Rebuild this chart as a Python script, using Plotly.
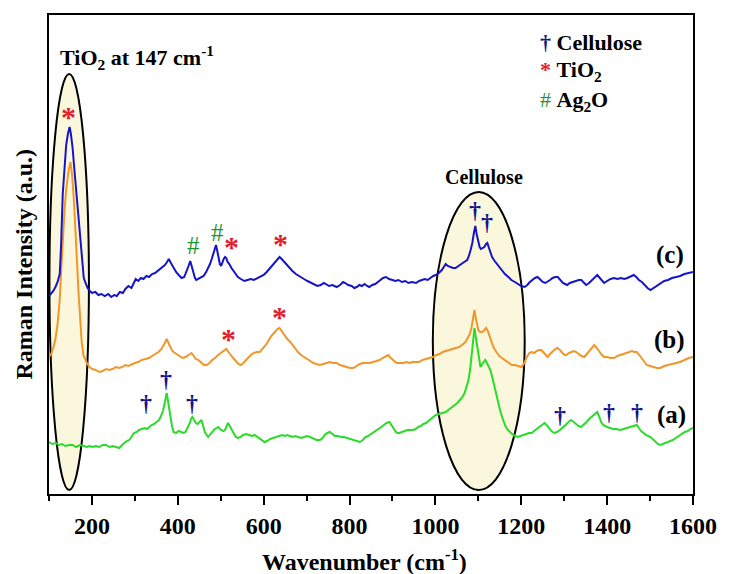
import plotly.graph_objects as go

# ---- data (wavenumber in cm^-1, intensity in a.u., vertical offsets included) ----
wn_c = [100,105,110,115,120,125,128,132,136,140,144,148,151,155,159,162,167,174,178,181,186,190,195,200,208,215,222,230,238,245,252,258,265,272,278,285,292,298,302,308,314,320,327,333,340,347,355,362,370,375,379,384,390,396,402,409,415,420,425,429,433,436,440,443,448,454,460,466,471,475,479,482,486,489,492,495,498,501,504,507,510,513,516,520,525,530,535,540,547,555,562,570,577,585,592,600,607,615,622,628,633,637,642,648,654,660,667,675,684,694,702,710,718,725,733,740,745,752,760,770,778,785,790,797,805,811,817,823,829,835,841,846,853,860,866,872,878,885,892,900,907,914,922,930,937,945,955,962,968,975,982,988,995,1001,1008,1015,1020,1024,1029,1035,1041,1047,1053,1060,1067,1074,1078,1082,1086,1090,1093,1096,1100,1103,1106,1110,1114,1118,1121,1124,1128,1132,1138,1145,1150,1155,1162,1170,1177,1185,1192,1200,1208,1214,1220,1226,1232,1238,1244,1250,1256,1261,1267,1273,1279,1285,1291,1297,1302,1307,1313,1320,1327,1334,1340,1346,1351,1358,1365,1371,1377,1383,1388,1393,1400,1408,1416,1424,1432,1440,1447,1455,1462,1468,1474,1481,1487,1494,1501,1508,1516,1524,1533,1542,1551,1561,1570,1580,1590,1600]
int_c = [198,200,203,207,212,220,247,300,330,349,360,367,360,346,325,310,280,247,228,216,210,206,203,201,202,199,200,198,200,197,199,198,202,201,205,208,206,212,215,213,216,215,218,217,220,221,224,226,229,232,235,231,226,222,219,216,217,222,228,233,226,221,216,214,215,217,218,222,226,230,235,240,246,249,243,236,230,228,232,235,237,236,232,230,226,223,219,217,215,213,214,215,214,216,217,219,222,226,230,233,235,237,235,232,229,226,223,220,218,215,213,211,209,208,209,211,210,208,209,207,209,212,211,209,208,206,207,209,208,210,208,207,209,210,212,214,216,217,215,214,213,214,212,213,211,212,211,213,214,215,214,216,218,219,221,224,228,230,228,227,226,226,228,230,232,234,238,244,251,262,268,260,251,247,245,246,247,250,251,247,242,237,233,229,226,224,220,217,214,212,210,208,207,209,212,214,216,217,214,212,211,212,214,216,217,217,214,211,210,209,211,212,213,214,214,211,209,211,214,217,219,216,213,211,213,215,216,215,216,215,216,218,219,217,214,212,209,206,204,206,209,211,213,214,216,217,218,220,221,222]

wn_b = [100,105,110,115,120,125,128,132,136,140,145,150,154,158,162,165,169,172,176,180,187,194,201,209,217,225,233,240,248,256,263,270,278,285,293,300,308,316,325,333,340,348,355,362,368,371,374,378,382,386,390,397,404,411,418,425,432,437,442,448,455,461,467,474,480,487,494,500,506,513,518,524,529,535,541,547,553,559,565,570,577,584,591,598,605,611,616,622,628,632,637,642,648,655,662,669,675,680,687,694,701,708,716,723,731,739,746,754,762,770,778,786,793,801,809,817,824,832,840,847,855,862,870,877,884,890,896,903,910,918,925,933,940,947,955,962,970,978,986,994,1002,1010,1017,1024,1031,1038,1046,1055,1062,1070,1075,1080,1084,1088,1091,1094,1097,1100,1104,1109,1114,1118,1122,1127,1131,1135,1142,1149,1155,1162,1170,1178,1185,1193,1201,1207,1213,1219,1224,1230,1236,1242,1247,1253,1258,1261,1267,1273,1279,1284,1290,1296,1301,1305,1311,1317,1323,1328,1334,1340,1347,1353,1359,1365,1370,1376,1382,1388,1393,1400,1408,1416,1424,1432,1439,1446,1452,1458,1464,1469,1475,1481,1487,1492,1500,1508,1516,1524,1533,1542,1551,1561,1570,1580,1590,1600]
int_b = [137,140,146,155,170,194,220,254,283,304,322,332,318,294,265,234,200,174,153,139,132,127,125,124,122,123,125,124,125,127,126,127,129,128,130,131,132,134,135,136,138,140,142,145,149,152,155,151,147,144,142,140,138,136,137,139,141,138,135,134,131,129,129,131,134,136,139,141,143,145,142,138,136,133,130,129,131,134,137,139,141,142,142,145,149,153,157,160,163,165,166,163,159,155,152,148,144,142,139,137,135,133,131,130,129,130,131,132,131,131,129,128,127,126,126,128,130,131,131,131,132,133,134,136,138,139,136,133,131,131,131,132,131,132,132,132,134,135,136,137,139,140,142,143,144,145,146,147,149,152,156,160,166,176,184,176,168,164,162,162,164,166,163,157,152,147,142,138,136,134,131,129,129,128,127,131,137,141,142,141,143,144,144,141,138,137,140,143,145,146,144,141,139,139,141,142,143,142,140,138,137,140,144,147,149,146,142,139,137,137,136,136,138,139,140,141,142,143,142,142,139,135,131,129,128,127,126,126,128,129,130,131,132,134,136,137]

wn_a = [100,108,116,123,130,138,147,155,163,172,180,188,195,201,209,217,225,233,241,249,256,264,270,276,281,287,293,298,304,310,316,322,328,333,339,345,351,356,361,366,370,374,378,382,386,390,396,402,409,413,418,423,428,431,434,438,442,446,450,455,459,463,467,471,476,481,486,490,494,498,502,506,510,513,517,521,526,530,535,540,546,552,559,566,573,579,585,591,597,602,608,615,622,630,637,643,649,655,661,668,674,681,687,694,701,708,716,723,731,737,742,748,754,760,766,773,780,787,794,801,809,816,824,831,837,843,850,856,862,868,874,880,886,893,898,903,908,912,916,922,929,935,941,948,954,960,966,972,978,984,990,996,1001,1008,1015,1020,1024,1030,1036,1041,1045,1051,1057,1063,1068,1072,1077,1081,1084,1086,1088,1091,1094,1098,1101,1105,1108,1112,1116,1120,1124,1128,1133,1138,1142,1146,1151,1157,1163,1169,1175,1181,1186,1192,1198,1205,1211,1218,1224,1230,1236,1242,1248,1254,1259,1264,1270,1277,1283,1290,1296,1303,1310,1316,1322,1328,1333,1339,1345,1352,1358,1364,1370,1377,1382,1386,1391,1395,1400,1407,1414,1421,1427,1431,1438,1445,1451,1458,1464,1469,1474,1479,1485,1490,1496,1501,1506,1512,1518,1524,1530,1536,1542,1548,1553,1560,1567,1574,1581,1588,1594,1600]
int_a = [52,50,51,49,50,48,49,49,47,49,48,47,48,47,48,47,49,49,47,48,47,46,49,51,53,54,58,61,62,64,65,66,65,67,69,70,72,74,78,84,92,101,91,79,69,62,61,63,62,61,62,66,71,75,77,74,71,70,72,74,68,62,59,57,60,63,65,66,67,65,64,63,64,68,71,68,64,60,57,56,57,59,60,59,58,59,57,55,53,52,53,55,56,57,58,59,58,59,58,57,58,57,56,57,58,57,55,54,54,56,59,61,62,60,58,58,57,57,56,55,54,53,52,54,57,58,60,61,63,65,67,69,71,72,69,65,62,61,61,62,63,64,64,64,65,67,68,70,71,73,75,77,79,80,81,82,82,84,86,88,89,91,94,97,101,106,114,125,137,147,156,166,157,147,136,127,129,132,134,131,127,124,116,106,98,91,83,75,68,64,61,59,58,57,58,59,60,61,61,63,65,67,69,71,69,66,63,61,62,64,66,69,72,74,72,70,68,67,69,72,75,77,79,82,77,72,69,68,67,66,65,65,64,64,65,66,67,68,69,69,66,63,61,59,58,57,55,52,50,49,50,51,52,53,54,56,58,60,62,63,65,66]

# peak markers (wavenumber, height)
dagger_x = [1093, 1121, 326, 372, 434, 1291, 1404, 1469]
dagger_y = [284, 272, 91, 115, 91, 79, 82, 82]
star_x = [146, 524, 639, 517, 637]
star_y = [378, 248, 251, 156, 178]
hash_x = [436, 492]
hash_y = [249, 262]

x_ticks = [200, 400, 600, 800, 1000, 1200, 1400, 1600]
x_minor = [100, 300, 500, 700, 900, 1100, 1300, 1500]

FONT = "Liberation Serif"
BLUE = "#1414C8"
ORANGE = "#F0962A"
GREEN = "#2ADC2A"
DAG = "#14148C"
RED = "#E0202A"
HASHC = "#1E9632"

fig = go.Figure()

# highlighted regions
fig.add_shape(type="circle", xref="x", yref="y", x0=101, x1=193, y0=4, y1=420,
              fillcolor="#FBF7DC", line=dict(color="black", width=2), layer="below")
fig.add_shape(type="circle", xref="x", yref="y", x0=994, x1=1208, y0=4, y1=302,
              fillcolor="#FBF7DC", line=dict(color="black", width=2), layer="below")

fig.add_trace(go.Scatter(x=wn_a, y=int_a, mode="lines", line=dict(color=GREEN, width=2), name="(a)"))
fig.add_trace(go.Scatter(x=wn_b, y=int_b, mode="lines", line=dict(color=ORANGE, width=2), name="(b)"))
fig.add_trace(go.Scatter(x=wn_c, y=int_c, mode="lines", line=dict(color=BLUE, width=2), name="(c)"))

ann = []
for x, y in zip(dagger_x, dagger_y):
    ann.append(dict(x=x, y=y, text="<b>†</b>", showarrow=False,
                    font=dict(family=FONT, size=24, color=DAG)))
for x, y in zip(star_x, star_y):
    ann.append(dict(x=x, y=y, text="<b>*</b>", showarrow=False,
                    font=dict(family=FONT, size=30, color=RED)))
for x, y in zip(hash_x, hash_y):
    ann.append(dict(x=x, y=y, text="#", showarrow=False,
                    font=dict(family=FONT, size=25, color=HASHC)))

for txt, x, y in [("(c)", 1547, 239), ("(b)", 1545, 154), ("(a)", 1549, 79)]:
    ann.append(dict(x=x, y=y, text="<b>" + txt + "</b>", showarrow=False,
                    font=dict(family=FONT, size=25, color="black")))

ann.append(dict(x=305, y=437, text="<b>TiO<sub>2</sub> at 147 cm<sup>-1</sup></b>", showarrow=False,
                font=dict(family=FONT, size=22, color="black")))
ann.append(dict(x=1114, y=317, text="<b>Cellulose</b>", showarrow=False,
                font=dict(family=FONT, size=20, color="black")))

# key in the top right corner
ann.append(dict(x=1240, y=452, xanchor="left", text='<span style="color:%s"><b>†</b></span> <b>Cellulose</b>' % DAG,
                showarrow=False, font=dict(family=FONT, size=22, color="black")))
ann.append(dict(x=1240, y=423, xanchor="left", text='<span style="color:%s"><b>*</b></span> <b>TiO<sub>2</sub></b>' % RED,
                showarrow=False, font=dict(family=FONT, size=22, color="black")))
ann.append(dict(x=1240, y=393, xanchor="left", text='<span style="color:%s">#</span> <b>Ag<sub>2</sub>O</b>' % HASHC,
                showarrow=False, font=dict(family=FONT, size=22, color="black")))

# axis titles
ann.append(dict(xref="paper", yref="paper", x=0.49, y=-0.138, xanchor="center", yanchor="middle",
                text="<b>Wavenumber (cm<sup>-1</sup>)</b>", showarrow=False,
                font=dict(family=FONT, size=24, color="black")))
ann.append(dict(xref="paper", yref="paper", x=-0.038, y=0.48, xanchor="center", yanchor="middle",
                textangle=-90,
                text="<b>Raman Intensity (a.u.)</b>", showarrow=False,
                font=dict(family=FONT, size=24, color="black")))

fig.update_layout(
    width=729, height=574,
    margin=dict(l=49, r=29, t=15, b=80),
    paper_bgcolor="white", plot_bgcolor="white",
    showlegend=False,
    annotations=ann,
    font=dict(family=FONT, color="black"),
)
fig.update_xaxes(range=[100, 1600], tickvals=x_ticks, ticktext=["<b>%d</b>" % v for v in x_ticks],
                 ticks="outside", ticklen=9, tickwidth=2, tickcolor="black",
                 minor=dict(tickvals=x_minor, ticks="outside", ticklen=5, tickwidth=2, tickcolor="black"),
                 showline=True, linewidth=2, linecolor="black", mirror=True,
                 showgrid=False, zeroline=False,
                 tickfont=dict(family=FONT, size=24, color="black"))
fig.update_yaxes(range=[0, 479], showticklabels=False, ticks="",
                 showline=True, linewidth=2, linecolor="black", mirror=True,
                 showgrid=False, zeroline=False)

fig.write_html("out.html")
